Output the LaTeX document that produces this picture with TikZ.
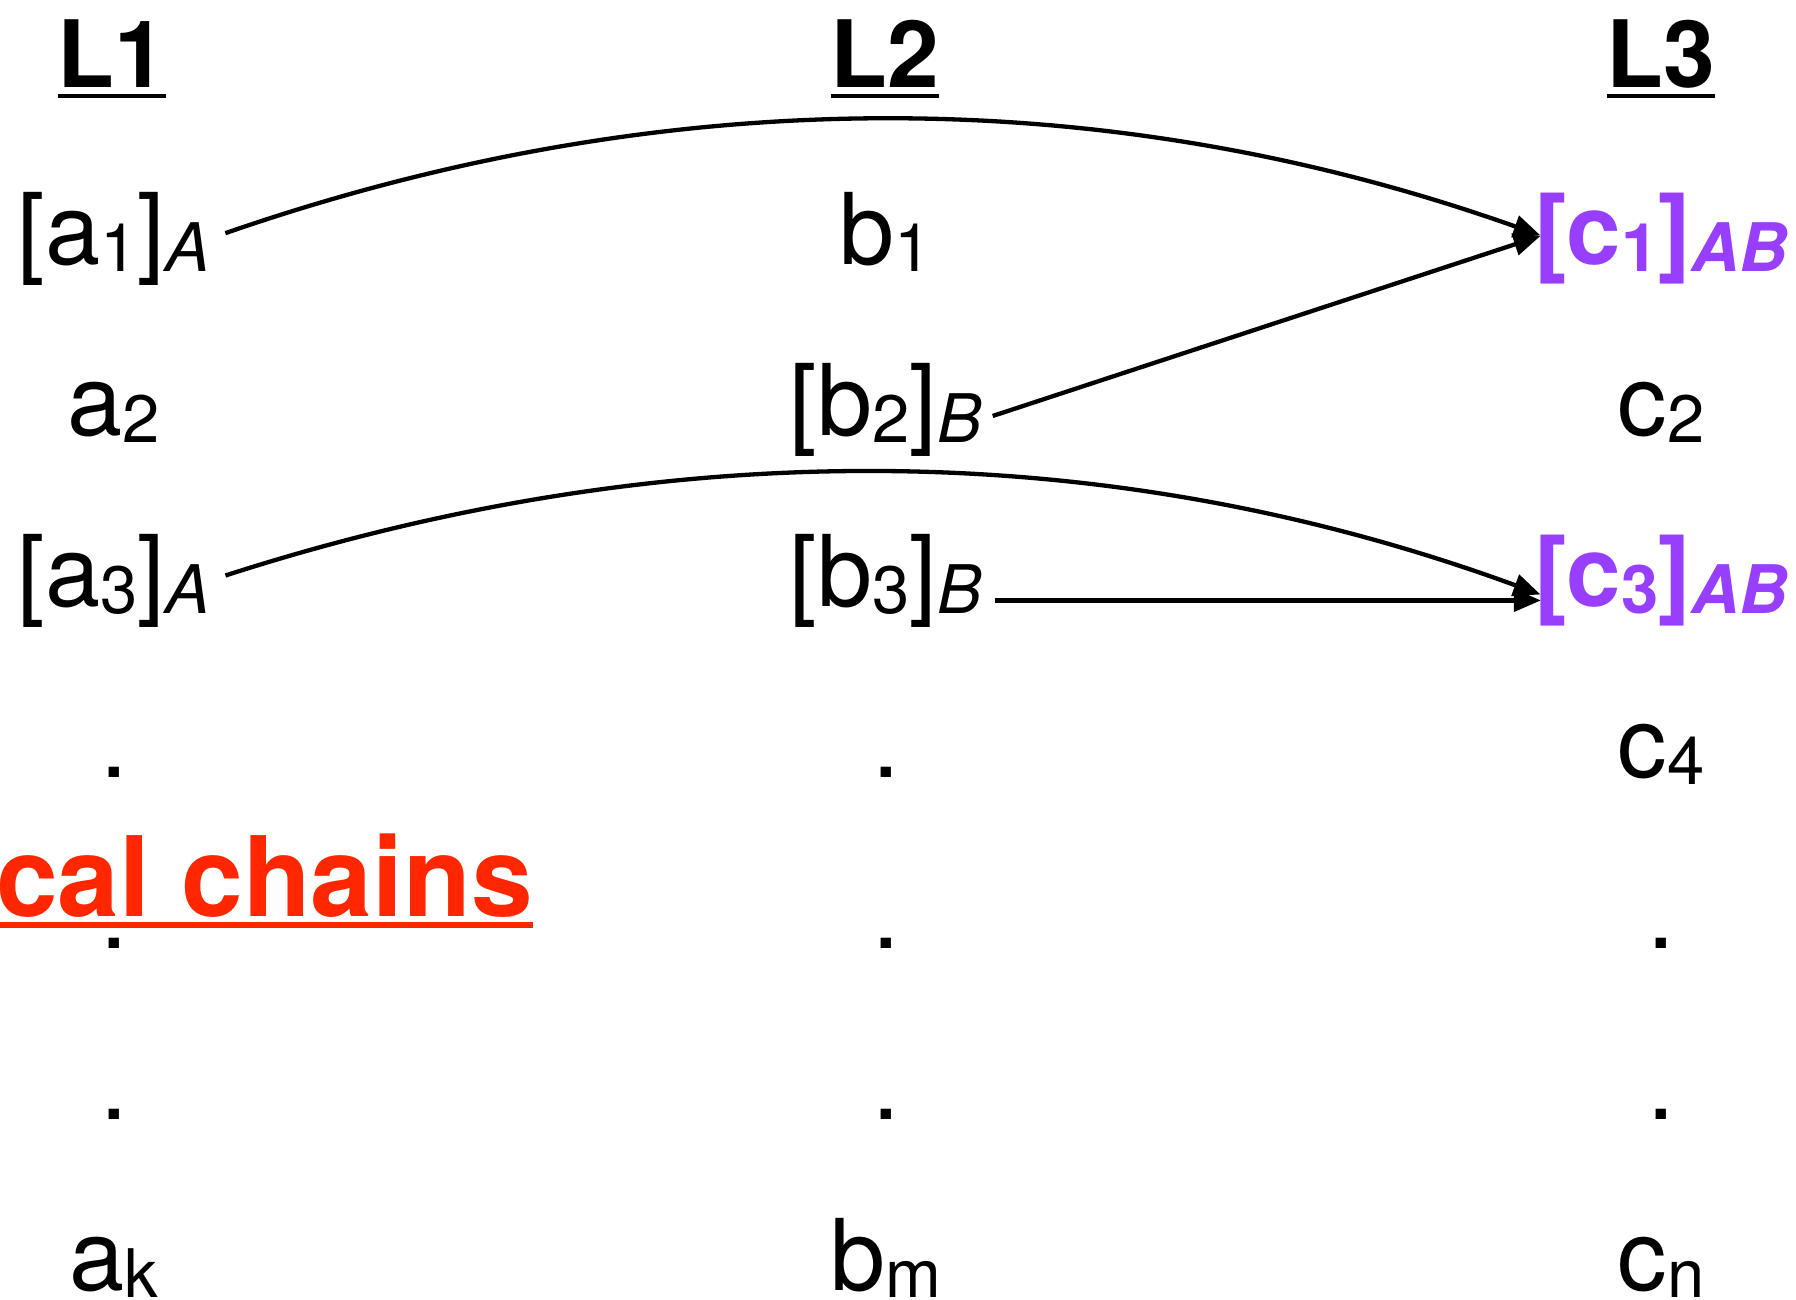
\documentclass[tikz,border=0pt]{standalone}
\usepackage{fontspec}
\setmainfont{TeX Gyre Heros}
\usetikzlibrary{positioning}
\usetikzlibrary{arrows.meta}

\definecolor{chainred}{RGB}{255,38,0}
\definecolor{joinpurple}{RGB}{152,62,255}
\newcommand\low[1]{\raisebox{-7pt}{\fontsize{67}{67}\selectfont #1}}

\begin{document}
\begin{tikzpicture}[x=1pt, y=-1pt,
  every node/.style={inner sep=0pt, anchor=base, font=\fontsize{99}{99}\selectfont},
  head/.style={font=\fontsize{93}{93}\selectfont\bfseries},
  joined/.style={text=joinpurple, font=\fontsize{98}{98}\selectfont\bfseries},
  link/.style={line width=4.3pt, -{Triangle[length=27pt,width=22pt]}, shorten >=-7pt},
  rule/.style={line width=4.5pt}]
  \useasboundingbox (0,0) rectangle (1796,1299);

  % level headings
  \node[head] (l1) at (112,87) {L1};
  \node[head] (l2) at (885,87) {L2};
  \node[head] (l3) at (1661,87) {L3};
  \draw[rule] ([yshift=-9pt]l1.base west) -- ([yshift=-9pt]l1.base east);
  \draw[rule] ([yshift=-9pt]l2.base west) -- ([yshift=-9pt]l2.base east);
  \draw[rule] ([yshift=-9pt]l3.base west) -- ([yshift=-9pt]l3.base east);

  % L1 column
  \node (a1) at (114,264) {[a\low{1}]\low{\textit{A}}};
  \node[below=171pt of a1.base, anchor=base] (a2) {a\low{2}};
  \node[below=171pt of a2.base, anchor=base] (a3) {[a\low{3}]\low{\textit{A}}};
  \node[below=171pt of a3.base, anchor=base] (a4) {.};
  \node[below=171pt of a4.base, anchor=base] (a5) {.};
  \node[below=171pt of a5.base, anchor=base] (a6) {.};
  \node[below=171pt of a6.base, anchor=base] (ak) {a\low{k}};

  % L2 column
  \node (b1) at (886,264) {b\low{1}};
  \node[below=171pt of b1.base, anchor=base] (b2) {[b\low{2}]\low{\textit{B}}};
  \node[below=171pt of b2.base, anchor=base] (b3) {[b\low{3}]\low{\textit{B}}};
  \node[below=171pt of b3.base, anchor=base] (b4) {.};
  \node[below=171pt of b4.base, anchor=base] (b5) {.};
  \node[below=171pt of b5.base, anchor=base] (b6) {.};
  \node[below=171pt of b6.base, anchor=base] (bm) {b\low{m}};

  % L3 column
  \node[joined] (c1) at (1661,264) {[c\low{1}]\low{\textit{AB}}};
  \node[below=171pt of c1.base, anchor=base] (c2) {c\low{2}};
  \node[joined, below=171pt of c2.base, anchor=base] (c3) {[c\low{3}]\low{\textit{AB}}};
  \node[below=171pt of c3.base, anchor=base] (c4) {c\low{4}};
  \node[below=171pt of c4.base, anchor=base] (c5) {.};
  \node[below=171pt of c5.base, anchor=base] (c6) {.};
  \node[below=171pt of c6.base, anchor=base] (cn) {c\low{n}};

  % chain label
  \node[anchor=base west, text=chainred, font=\fontsize{111}{111}\selectfont\bfseries] (chains) at (-4,916) {cal chains};
  \draw[rule, chainred, line width=5.5pt] ([yshift=-9pt]chains.base west) -- ([yshift=-9pt]chains.base east);

  % control points of the two arcs (bend is too long for to[bend])
  \coordinate (k1) at (667,80);
  \coordinate (k2) at (1108,82);
  \coordinate (k3) at (667,433);
  \coordinate (k4) at (1108,436);

  % links into L3
  \draw[link, shorten <=16pt] (a1.east) .. controls (k1) and (k2) .. ([yshift=5pt]c1.west);
  \draw[link, shorten <=11pt] ([yshift=-10pt]b2.east) -- (c1.west);
  \draw[link, shorten <=16pt] (a3.east) .. controls (k3) and (k4) .. ([yshift=-12pt]c3.west);
  \draw[link, shorten <=13pt] ([yshift=-20pt]b3.east) -- ([yshift=-20pt]b3.east -| c3.west);
\end{tikzpicture}
\end{document}
